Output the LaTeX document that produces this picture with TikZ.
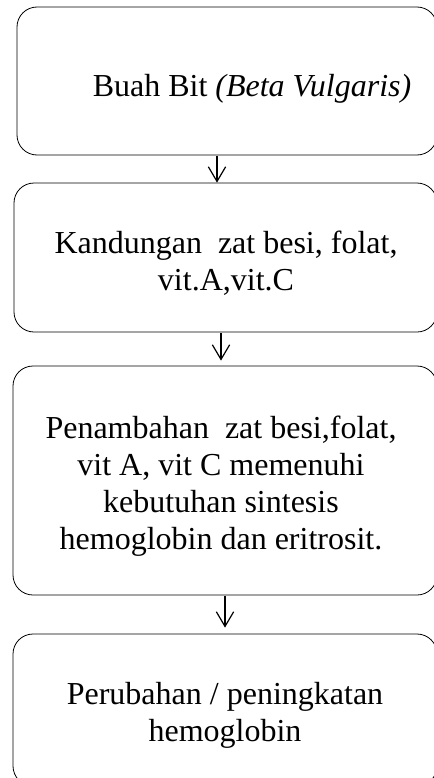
\documentclass[tikz,border=0pt]{standalone}
\usepackage{fontspec}
\setmainfont{Liberation Serif}
\usetikzlibrary{arrows.meta}
\usetikzlibrary{calc}
\tikzset{
	box/.style={draw=black, line width=0.6pt, rounded corners=15pt, inner sep=0pt},
	txt/.style={align=center, inner sep=0pt, font=\fontsize{24}{27.6}\selectfont},
	flow/.style={-{Straight Barb[length=11pt,width=13pt]}, line width=0.9pt, shorten <=0.3pt},
}
\begin{document}
\begin{tikzpicture}[x=0.75pt,y=-0.75pt]
\useasboundingbox (0,0) rectangle (434,778);
\clip (0,0) rectangle (434,778);
% KOTAK
\node[box, minimum width=315pt, minimum height=111pt] (b1) at (227,81) {};
\node[box, minimum width=317.25pt, minimum height=111.75pt] (b2) at (225.5,257.5) {};
\node[box, minimum width=318pt, minimum height=171.75pt] (b3) at (225,480.5) {};
\node[box, minimum width=318pt, minimum height=114pt] (b4) at (225,710) {};
% TEKS
\node[txt] (t1) at (252,89) {Buah Bit \textit{(Beta Vulgaris)}};
\node[txt] (t2) at (226,263) {Kandungan\ \ zat besi, folat,\\vit.A,vit.C};
\node[txt] (t3) at (221,486) {Penambahan\ \ zat besi,folat,\\vit A, vit C memenuhi\\kebutuhan sintesis\\hemoglobin dan eritrosit.};
\node[txt] (t4) at (225,715) {Perubahan / peningkatan\\hemoglobin};
% PANAH
\draw[flow] ($(b1.south)+(-10,0)$) -- ($(b1.south |- b2.north)+(-10,0)$);
\draw[flow, shorten >=3.75pt] ($(b2.south)+(-4.5,0)$) -- ($(b2.south |- b3.north)+(-4.5,0)$);
\draw[flow, shorten >=4.5pt] (b3.south) -- (b3.south |- b4.north);
\end{tikzpicture}
\end{document}
